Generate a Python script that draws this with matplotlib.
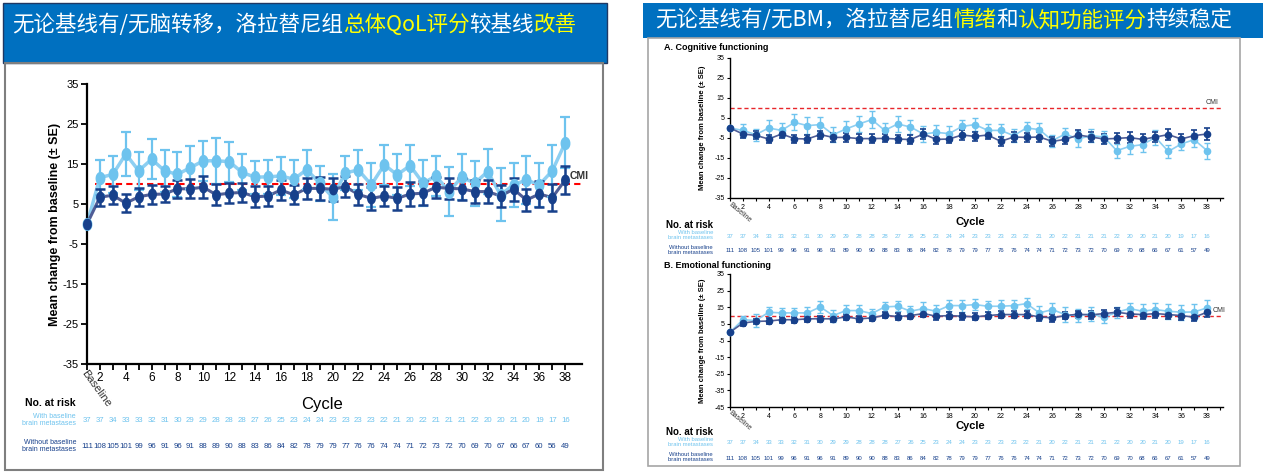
import matplotlib
matplotlib.use('Agg')
import matplotlib.pyplot as plt
from matplotlib.patches import Rectangle
from matplotlib.transforms import blended_transform_factory
import numpy as np

# Data: position 1 = Baseline, then cycles 2..38
cycles = list(range(1, 39))

# Global QoL (left chart)
qol_bm = [0, 11.6, 12.4, 17.5, 13.3, 16.2, 13.3, 12.4, 14.1, 15.8, 15.8,
          15.6, 12.9, 11.7, 11.8, 12.0, 11.2, 13.6, 10.2, 6.7, 12.8,
          13.5, 9.8, 14.8, 12.3, 14.6, 10.2, 12.0, 8.1, 11.7, 10.2,
          13.1, 7.3, 9.8, 11.0, 9.8, 13.3, 20.3]
qol_bm_se = [0, 4.4, 4.6, 5.4, 4.8, 5.0, 5.2, 5.7, 5.4, 5.0, 5.7,
             5.0, 4.5, 4.1, 4.2, 4.8, 4.8, 4.9, 4.4, 5.8, 4.2,
             5.0, 5.5, 5.0, 5.1, 5.2, 5.8, 5.0, 6.2, 5.7, 5.6,
             5.7, 6.6, 5.5, 6.0, 5.5, 6.5, 6.4]
qol_nobm = [0, 6.7, 7.2, 5.2, 6.8, 7.4, 7.5, 8.8, 8.8, 9.2, 7.3,
            7.7, 7.9, 6.8, 7.0, 8.5, 7.3, 8.9, 8.9, 8.7, 9.3,
            7.4, 6.4, 7.0, 6.4, 7.5, 7.7, 9.2, 8.9, 8.8, 8.1,
            8.1, 7.0, 8.7, 6.0, 7.5, 6.6, 11.0]
qol_nobm_se = [0, 2.1, 2.2, 2.2, 2.2, 2.3, 2.0, 2.3, 2.4, 2.7, 2.6,
               2.5, 2.3, 2.6, 2.4, 2.6, 2.4, 2.6, 2.8, 2.9, 2.6,
               2.6, 2.8, 2.6, 2.8, 2.9, 3.0, 2.6, 2.6, 2.8, 2.8,
               2.8, 2.8, 2.9, 2.8, 3.2, 3.3, 3.6]

# Cognitive functioning (right, A)
cog_bm = [0, -1.2, -3.3, 0, -1.2, 2.8, 1.2, 1.7, -3.3, -0.5, 2.0,
          4.2, -1.2, 2.0, 0.5, -3.0, -2.2, -2.8, 0.8, 1.7, -1.2,
          -1.2, -3.8, 0, -0.8, -6.3, -3.0, -5.5, -3.8, -4.5, -11.3,
          -9.2, -8.3, -4.7, -11.7, -8.0, -5.8, -11.3]
cog_bm_se = [0, 3.3, 3.0, 3.8, 3.5, 4.0, 4.2, 3.8, 3.7, 3.8, 3.9,
             4.2, 3.8, 4.0, 3.6, 3.8, 3.5, 3.8, 3.4, 3.2, 3.0,
             3.0, 3.2, 3.0, 3.3, 3.0, 3.0, 3.8, 3.1, 3.1, 3.5,
             3.9, 3.6, 3.6, 3.2, 2.8, 3.5, 4.0]
cog_nobm = [0, -3.0, -3.7, -5.5, -3.0, -5.3, -5.5, -3.3, -4.7, -4.7, -5.3,
            -5.3, -5.2, -5.5, -5.8, -3.0, -5.7, -5.5, -3.5, -4.2, -3.5,
            -6.7, -4.5, -4.7, -4.5, -6.7, -5.7, -3.5, -4.5, -5.5, -5.2,
            -4.8, -5.7, -4.5, -3.3, -5.5, -3.8, -3.0]
cog_nobm_se = [0, 2.0, 2.0, 2.0, 2.0, 2.0, 2.2, 2.0, 2.1, 2.1, 2.1,
               2.1, 2.0, 2.2, 2.2, 2.3, 2.2, 2.2, 2.3, 2.3, 2.2,
               2.4, 2.3, 2.4, 2.3, 2.4, 2.4, 2.4, 2.4, 2.5, 2.5,
               2.6, 2.6, 2.6, 2.6, 2.7, 2.8, 3.2]

# Emotional functioning (right, B)
emo_bm = [0, 7.5, 7.0, 12.0, 11.6, 11.6, 11.6, 15.2, 10.0, 13.0, 13.0,
          11.2, 15.2, 15.6, 12.6, 14.2, 12.6, 16.0, 16.0, 16.6, 15.6,
          15.6, 16.0, 17.2, 11.6, 13.6, 10.6, 10.0, 11.0, 9.0, 12.0,
          14.2, 12.6, 13.6, 12.6, 12.0, 12.2, 14.6]
emo_bm_se = [0, 2.5, 3.8, 3.2, 3.0, 3.0, 3.6, 3.4, 3.6, 3.4, 3.6,
             2.8, 2.8, 3.0, 3.4, 3.8, 3.6, 3.2, 3.6, 3.4, 3.4,
             3.6, 3.6, 3.4, 4.4, 3.8, 4.4, 4.0, 4.2, 3.6, 3.4,
             3.6, 4.2, 4.0, 4.4, 4.6, 4.8, 5.0]
emo_nobm = [0, 5.5, 6.5, 6.7, 7.5, 7.5, 8.0, 8.1, 8.0, 9.2, 8.0,
            8.6, 10.2, 9.4, 10.0, 11.2, 9.6, 10.0, 9.6, 9.2, 10.0,
            10.6, 10.6, 10.6, 9.2, 8.6, 10.0, 10.8, 10.4, 11.2, 12.0,
            11.0, 10.6, 11.2, 10.6, 10.0, 9.0, 12.0]
emo_nobm_se = [0, 1.6, 1.7, 1.7, 1.7, 1.8, 1.8, 1.8, 1.8, 1.9, 1.9,
               1.9, 1.9, 2.0, 2.0, 2.0, 2.0, 2.0, 2.0, 2.1, 2.1,
               2.1, 2.1, 2.1, 2.2, 2.2, 2.2, 2.2, 2.3, 2.3, 2.3,
               2.3, 2.4, 2.4, 2.4, 2.5, 2.5, 2.7]

# Number at risk
risk_bm = [37, 37, 34, 33, 33, 32, 31, 30, 29, 29, 28, 28, 28, 27, 26, 25, 23, 24, 24,
           23, 23, 23, 23, 22, 21, 20, 22, 21, 21, 21, 22, 20, 20, 21, 20, 19, 17, 16]
risk_nobm_left = [111, 108, 105, 101, 99, 96, 91, 96, 91, 88, 89, 90, 88, 83, 86, 84, 82, 78, 79,
                  79, 77, 76, 76, 74, 74, 71, 72, 73, 72, 70, 69, 70, 67, 66, 67, 60, 56, 49]
risk_nobm_right = [111, 108, 105, 101, 99, 96, 91, 96, 91, 89, 90, 90, 88, 83, 86, 84, 82, 78, 79,
                   79, 77, 76, 76, 74, 74, 71, 72, 73, 72, 70, 69, 70, 68, 66, 67, 61, 57, 49]

cmi = 10
ytick_left = [35, 25, 15, 5, -5, -15, -25, -35]
ytick_b = [35, 25, 15, 5, -5, -15, -25, -35, -45]

# Colours and fonts
LIGHT = '#6EC3EE'
LIGHT_LINE = '#8DCFF2'
DARK = '#17408B'
DARK_LINE = '#4F5D96'
BAND = '#0070C0'
YELLOW = '#FFFF00'
SANS = ['Liberation Sans', 'DejaVu Sans']
CJK = ['Noto Sans CJK SC', 'DejaVu Sans']

W, H = 1268, 475
fig = plt.figure(figsize=(W / 100, H / 100), dpi=100)
fig.patch.set_facecolor('white')


def fx(x):
    return x / W


def fy(y):
    return 1 - y / H


def make_axes(x0, x1, ytop, ybot):
    return fig.add_axes([fx(x0), fy(ybot), (x1 - x0) / W, (ybot - ytop) / H])


# ellipse marker (left chart looks horizontally squeezed)
t = np.linspace(0, 2 * np.pi, 40)
ellipse = list(zip(0.72 * np.cos(t), np.sin(t)))


def draw_series(ax, y, se, pt_col, line_col, ms, cap, lw, elw, marker='o'):
    ax.plot(cycles, y, color=line_col, lw=lw, zorder=2, clip_on=False)
    ax.errorbar(cycles[1:], y[1:], yerr=se[1:], fmt='none', ecolor=pt_col,
                capsize=cap, elinewidth=elw, capthick=elw, zorder=3, clip_on=False)
    ax.plot(cycles, y, ls='none', marker=marker, ms=ms, color=pt_col, zorder=4, clip_on=False)


# ---------------- title bands and frames ----------------
fig.patches.append(Rectangle((fx(3), fy(63)), fx(604), 60 / H, transform=fig.transFigure,
                             facecolor=BAND, edgecolor='#1F3864', lw=1, zorder=0))
fig.patches.append(Rectangle((fx(643), fy(38)), fx(620), 35 / H, transform=fig.transFigure,
                             facecolor=BAND, edgecolor='none', zorder=0))
fig.patches.append(Rectangle((fx(5), fy(470)), fx(598), 407 / H, transform=fig.transFigure,
                             facecolor='none', edgecolor='#7F7F7F', lw=1.5, zorder=0))
fig.patches.append(Rectangle((fx(648), fy(466)), fx(592), 428 / H, transform=fig.transFigure,
                             facecolor='none', edgecolor='#A6A6A6', lw=1.2, zorder=0))


def rich_title(x0, yc, parts, size):
    renderer = fig.canvas.get_renderer()
    x = x0
    for txt, col in parts:
        tt = fig.text(fx(x), fy(yc), txt, color=col, fontsize=size, family=CJK,
                      fontweight='medium', va='center', ha='left')
        x += tt.get_window_extent(renderer).width


rich_title(12, 25, [('无论基线有/无脑转移，洛拉替尼组', 'white'), ('总体QoL评分', YELLOW),
                    ('较基线', 'white'), ('改善', YELLOW)], 15.5)
rich_title(655, 20, [('无论基线有/无BM，洛拉替尼组', 'white'), ('情绪', YELLOW), ('和', 'white'),
                     ('认知功能评分', YELLOW), ('持续稳定', 'white')], 15.5)

# ---------------- left chart: global QoL ----------------
ax = make_axes(87, 582, 84, 364)
ax.set_xlim(1, 39.3)
ax.set_ylim(-35, 35)
for s in ['top', 'right']:
    ax.spines[s].set_visible(False)
for s in ['left', 'bottom']:
    ax.spines[s].set_linewidth(1.6)
ax.set_yticks(ytick_left)
ax.set_yticklabels([str(v) for v in ytick_left], family=SANS, fontsize=8)
ax.set_xticks(cycles)
ax.set_xticklabels(['' if (c % 2 or c == 1) else str(c) for c in cycles], family=SANS, fontsize=8.5)
ax.tick_params(length=4, width=1.3, pad=2)
ax.plot([1.6, 39.2], [cmi, cmi], color='red', ls=(0, (3, 2)), lw=1.5, zorder=1, clip_on=False)
draw_series(ax, qol_bm, qol_bm_se, LIGHT, LIGHT_LINE, 8.5, 3.5, 2.5, 1.6, ellipse)
draw_series(ax, qol_nobm, qol_nobm_se, DARK, DARK_LINE, 7.5, 3.5, 2.2, 1.8, ellipse)
ax.text(38.35, 12.0, 'CMI', family=SANS, fontsize=7.5, fontweight='bold', color='#333333',
        ha='left', va='center')

trL = blended_transform_factory(ax.transData, fig.transFigure)
ax.text(1.05, fy(368), 'Baseline', transform=trL, family=SANS, fontsize=8, rotation=-54,
        rotation_mode='anchor', ha='left', va='top', color='#333333')
fig.text(fx(322), fy(404), 'Cycle', family=SANS, fontsize=12, ha='center', va='center')
fig.text(fx(55), fy(224), 'Mean change from baseline (± SE)', family=SANS, fontsize=9,
         fontweight='bold', rotation=90, ha='center', va='center')
fig.text(fx(76), fy(403), 'No. at risk', family=SANS, fontsize=7.5, fontweight='bold',
         ha='right', va='center')
fig.text(fx(76), fy(420), 'With baseline\nbrain metastases', family=SANS, fontsize=5,
         color=LIGHT, ha='right', va='center', linespacing=1.1)
fig.text(fx(76), fy(446), 'Without baseline\nbrain metastases', family=SANS, fontsize=5,
         color=DARK, ha='right', va='center', linespacing=1.1)
for c, a, b in zip(cycles, risk_bm, risk_nobm_left):
    ax.text(c, fy(421), str(a), transform=trL, family=SANS, fontsize=5.6, color=LIGHT,
            ha='center', va='center')
    ax.text(c, fy(446), str(b), transform=trL, family=SANS, fontsize=5.6, color=DARK,
            ha='center', va='center')


# ---------------- right charts ----------------
def right_panel(ytop, ybot, ylo, yticks, bm, bm_se, nobm, nobm_se, title, title_y,
                tick_y, cycle_y, risk_y, cmi_xy, nobm_risk):
    a = make_axes(730, 1223, ytop, ybot)
    a.set_xlim(1, 39.24)
    a.set_ylim(ylo, 35)
    for s in ['top', 'right']:
        a.spines[s].set_visible(False)
    for s in ['left', 'bottom']:
        a.spines[s].set_linewidth(1.0)
    a.set_yticks(yticks)
    a.set_yticklabels([str(v) for v in yticks], family=SANS, fontsize=5)
    a.set_xticks(cycles + [39])
    a.set_xticklabels(['' if (c % 2 or c == 1) else str(c) for c in cycles] + [''],
                      family=SANS, fontsize=5)
    a.tick_params(length=2.5, width=0.8, pad=1.5)
    a.plot([1, 39.2], [cmi, cmi], color='#E8262B', ls=(0, (3, 2)), lw=1.0, zorder=1, clip_on=False)
    draw_series(a, bm, bm_se, LIGHT, LIGHT_LINE, 4.5, 2.5, 1.2, 1.0)
    draw_series(a, nobm, nobm_se, DARK, DARK_LINE, 4.5, 2.5, 1.2, 1.2)
    a.text(cmi_xy[0], cmi_xy[1], 'CMI', family=SANS, fontsize=5, color='#333333',
           ha='left', va='center')
    tr = blended_transform_factory(a.transData, fig.transFigure)
    a.text(1.1, fy(tick_y - 4), 'Baseline', transform=tr, family=SANS, fontsize=5, rotation=-40,
           rotation_mode='anchor', ha='left', va='top', color='#333333')
    fig.text(fx(664), fy(title_y), title, family=SANS, fontsize=6.5, fontweight='bold',
             ha='left', va='center')
    fig.text(fx(970), fy(cycle_y), 'Cycle', family=SANS, fontsize=8, fontweight='bold',
             ha='center', va='center')
    fig.text(fx(702), fy((ytop + ybot) / 2), 'Mean change from baseline (± SE)', family=SANS,
             fontsize=5.5, fontweight='bold', rotation=90, ha='center', va='center')
    fig.text(fx(713), fy(risk_y), 'No. at risk', family=SANS, fontsize=7, fontweight='bold',
             ha='right', va='center')
    fig.text(fx(713), fy(risk_y + 10), 'With baseline\nbrain metastases', family=SANS,
             fontsize=4.2, color=LIGHT, ha='right', va='center', linespacing=1.0)
    fig.text(fx(713), fy(risk_y + 25), 'Without baseline\nbrain metastases', family=SANS,
             fontsize=4.2, color=DARK, ha='right', va='center', linespacing=1.0)
    for c, n1, n2 in zip(cycles, risk_bm, nobm_risk):
        a.text(c, fy(risk_y + 11), str(n1), transform=tr, family=SANS, fontsize=4.3,
               color=LIGHT, ha='center', va='center')
        a.text(c, fy(risk_y + 26), str(n2), transform=tr, family=SANS, fontsize=4.3,
               color=DARK, ha='center', va='center')
    return a


right_panel(58, 198, -35, ytick_left, cog_bm, cog_bm_se, cog_nobm, cog_nobm_se,
            'A. Cognitive functioning', 47, 205, 222, 225, (37.9, 12.5), risk_nobm_right)
right_panel(274, 407, -45, ytick_b, emo_bm, emo_bm_se, emo_nobm, emo_nobm_se,
            'B. Emotional functioning', 266, 413, 426, 432, (38.4, 13.3), risk_nobm_right)

plt.savefig('out.png', dpi=100, facecolor='white')
